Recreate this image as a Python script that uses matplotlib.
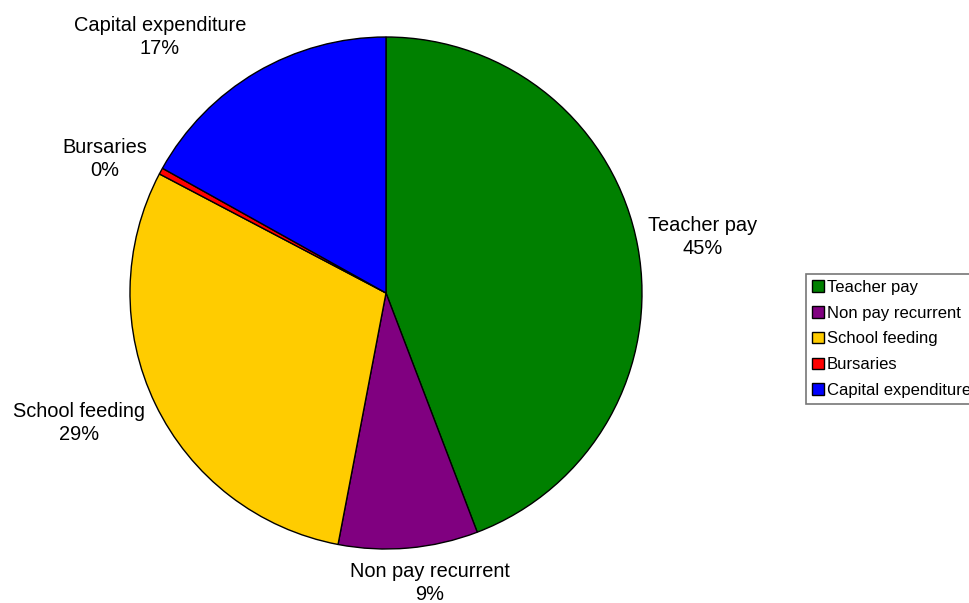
import numpy as np
import matplotlib.pyplot as plt
from matplotlib.patches import Patch

plt.rcParams['font.family'] = ['Liberation Sans', 'DejaVu Sans']

labels = ["Teacher pay", "Non pay recurrent", "School feeding", "Bursaries", "Capital expenditure"]
values = [44.2, 8.8, 29.7, 0.4, 16.9]
pct_text = ["45%", "9%", "29%", "0%", "17%"]
colors = ["#008000", "#800080", "#FFCC00", "#FF0000", "#0000FF"]
# label spots in axes units (pie radius = 1)
label_xy = [(1.238, 0.219), (0.172, -1.133), (-1.199, -0.508), (-1.098, 0.523), (-0.883, 1.0)]

fig = plt.figure(figsize=(9.69, 6.03), dpi=100)
ax = fig.add_axes([130/969, 54/603, 512/969, 512/603])
ax.pie(values, colors=colors, startangle=90, counterclock=False, radius=1,
       wedgeprops=dict(edgecolor="black", linewidth=1))
ax.set_xlim(-1, 1)
ax.set_ylim(-1, 1)
ax.set_aspect("equal")
ax.axis("off")

for lab, p, (x, y) in zip(labels, pct_text, label_xy):
    ax.text(x, y, lab + "\n" + p, ha="center", va="center", fontsize=14.4,
            linespacing=1.25, clip_on=False)

handles = [Patch(facecolor=c, edgecolor="black", linewidth=1) for c in colors]
leg = fig.legend(handles, labels, loc="upper left", bbox_to_anchor=(806/969, 1-274/603),
                 fontsize=12, frameon=True, fancybox=False, handlelength=0.7, handleheight=0.7,
                 handletextpad=0.2, labelspacing=0.65, borderpad=0.35, borderaxespad=0)
leg.get_frame().set_edgecolor("#555555")
leg.get_frame().set_linewidth(1.2)

fig.savefig("out.png", dpi=100)
